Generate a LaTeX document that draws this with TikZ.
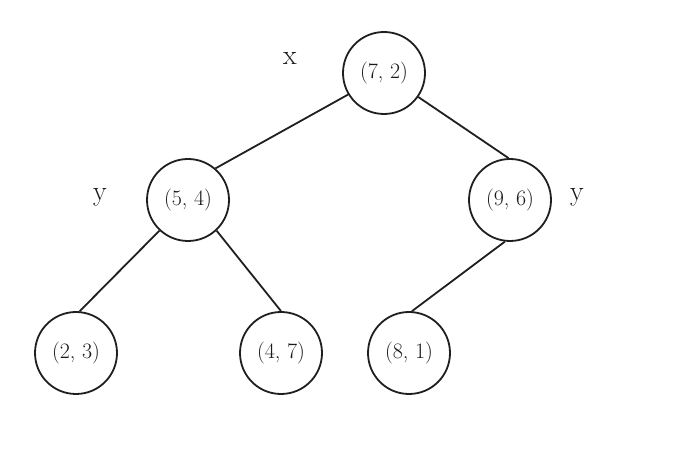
\documentclass[tikz,border=0pt]{standalone}
\begin{document}
\begin{tikzpicture}[x=1pt,y=1pt,
  kdnode/.style={circle,draw=black!88,line width=1.8pt,minimum size=82pt,inner sep=0pt,
    font=\fontsize{22}{24}\selectfont,text=black!90},
  axislabel/.style={font=\fontsize{28}{30}\selectfont,text=black!90,inner sep=0pt},
  edge/.style={draw=black!88,line width=1.8pt}]
  \useasboundingbox[fill=white] (0,0) rectangle (682,460);
  % tree nodes (points of the k-d tree)
  \node[kdnode] (n72) at (384,387) {(7, 2)};
  \node[kdnode] (n54) at (188,260) {(5, 4)};
  \node[kdnode] (n96) at (510,260) {(9, 6)};
  \node[kdnode] (n23) at (76,107) {(2, 3)};
  \node[kdnode] (n47) at (281,107) {(4, 7)};
  \node[kdnode] (n81) at (409,107) {(8, 1)};
  % splitting axis of each level
  \node[axislabel] (lx) at (290,402) {x};
  \node[axislabel] (ly1) at (100,263) {y};
  \node[axislabel] (ly2) at (577,263) {y};
  % edges
  \draw[edge] (n72.211) -- (n54.49);
  \draw[edge] (n72.-35) -- (n96.92);
  \draw[edge] (n54.-133) -- (n23.85);
  \draw[edge] (n54.-47) -- (n47.90);
  \draw[edge] (n96.-97) -- (n81.86);
\end{tikzpicture}
\end{document}
